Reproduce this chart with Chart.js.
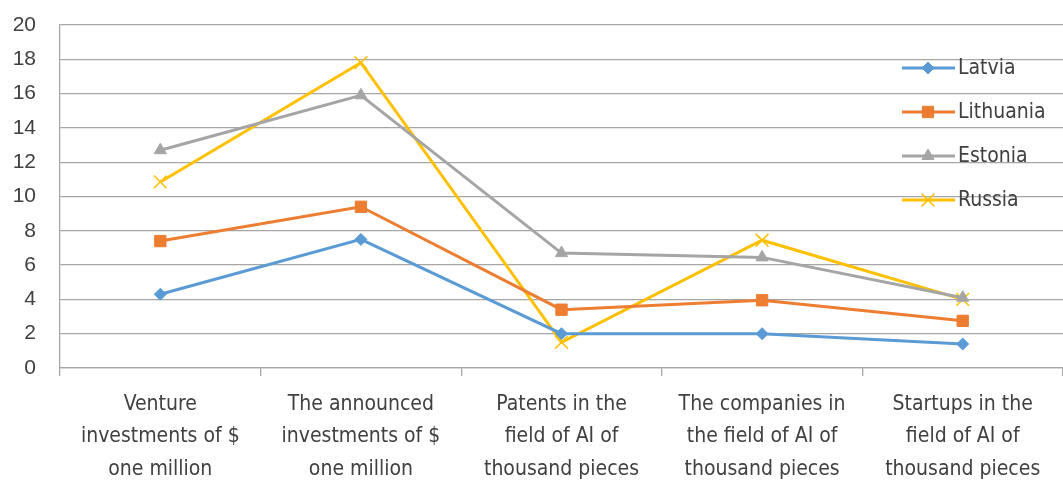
<!DOCTYPE html>
<html>
<head>
<meta charset="utf-8">
<script src="https://cdn.jsdelivr.net/npm/chart.js@4/dist/chart.umd.min.js"></script>
<style>
  html, body { margin: 0; padding: 0; background: #fff; overflow: hidden; }
  #wrap { position: relative; width: 1063px; height: 480px; }
</style>
</head>
<body>
<div id="wrap"><canvas id="aiChart"></canvas></div>
<script>
// categories and values
const categories = [
  ['Venture', 'investments of $', 'one million'],
  ['The announced', 'investments of $', 'one million'],
  ['Patents in the', 'field of AI of', 'thousand pieces'],
  ['The companies in', 'the field of AI of', 'thousand pieces'],
  ['Startups in the', 'field of AI of', 'thousand pieces']
];
const latvia = [4.3, 7.5, 2.0, 2.0, 1.4];
const lithuania = [7.4, 9.4, 3.4, 3.95, 2.75];
const estonia = [12.7, 15.9, 6.7, 6.45, 4.1];
const russia = [10.85, 17.8, 1.5, 7.45, 4.0];
const yTicks = [0, 2, 4, 6, 8, 10, 12, 14, 16, 18, 20];

const gridGray = '#a6a6a6';
const textColor = '#404040';

// legend drawn inside the plot, top right
const legendBox = {
  id: 'legendBox',
  afterDraw(chart) {
    const ctx = chart.ctx;
    chart.data.datasets.forEach((ds, i) => {
      const y = 68 + i * 44;
      ctx.save();
      ctx.strokeStyle = ds.borderColor;
      ctx.lineWidth = 3;
      ctx.beginPath();
      ctx.moveTo(902, y);
      ctx.lineTo(955, y);
      ctx.stroke();
      ctx.fillStyle = ds.pointBackgroundColor;
      ctx.strokeStyle = ds.pointBorderColor;
      ctx.lineWidth = ds.pointBorderWidth;
      Chart.helpers.drawPoint(ctx, {
        pointStyle: ds.pointStyle,
        radius: ds.pointRadius,
        rotation: 0,
        borderWidth: ds.pointBorderWidth
      }, 928, y);
      ctx.fillStyle = textColor;
      ctx.font = '21px "Liberation Sans Narrow", "DejaVu Sans Condensed", sans-serif';
      ctx.textBaseline = 'middle';
      ctx.textAlign = 'left';
      ctx.fillText(ds.label, 958, y + 1);
      ctx.restore();
    });
  }
};

function series(label, data, color, style, radius, bw) {
  return {
    label: label,
    data: data,
    borderColor: color,
    backgroundColor: color,
    pointBackgroundColor: color,
    pointBorderColor: color,
    pointStyle: style,
    pointRadius: radius,
    pointHoverRadius: radius,
    pointBorderWidth: bw,
    borderWidth: 3,
    tension: 0,
    fill: false
  };
}

new Chart(document.getElementById('aiChart'), {
  type: 'line',
  data: {
    labels: categories,
    datasets: [
      series('Latvia', latvia, '#5B9BD5', 'rectRot', 6, 1),
      series('Lithuania', lithuania, '#ED7D31', 'rect', 8, 1),
      series('Estonia', estonia, '#A5A5A5', 'triangle', 7, 1),
      series('Russia', russia, '#FFC000', 'crossRot', 9, 1.5)
    ]
  },
  options: {
    responsive: true,
    maintainAspectRatio: false,
    animation: false,
    layout: { autoPadding: false, padding: { top: 25, right: 0, left: 0, bottom: 0 } },
    plugins: {
      legend: { display: false },
      tooltip: { enabled: false }
    },
    scales: {
      x: {
        offset: true,
        grid: {
          offset: true,
          drawOnChartArea: false,
          color: gridGray,
          lineWidth: 1.3,
          tickLength: 8
        },
        border: { color: gridGray, width: 1.3 },
        ticks: {
          color: textColor,
          font: { family: '"Liberation Sans Narrow", "DejaVu Sans Condensed", sans-serif', size: 21, lineHeight: 1.55 },
          padding: 12,
          maxRotation: 0,
          autoSkip: false
        },
        afterFit(scale) {
          scale.height = 112;
          scale.paddingLeft = 0;
          scale.paddingRight = 0;
        }
      },
      y: {
        min: 0,
        max: 20,
        afterBuildTicks(scale) { scale.ticks = yTicks.map(v => ({ value: v })); },
        grid: { color: gridGray, lineWidth: 1.3, drawTicks: false },
        border: { color: gridGray, width: 1.3 },
        ticks: {
          color: textColor,
          font: { family: '"Liberation Sans", Arial, sans-serif', size: 21 },
          padding: 24
        },
        afterFit(scale) {
          scale.width = 60;
          scale.paddingTop = 0;
          scale.paddingBottom = 0;
        }
      }
    }
  },
  plugins: [legendBox]
});
</script>
</body>
</html>
